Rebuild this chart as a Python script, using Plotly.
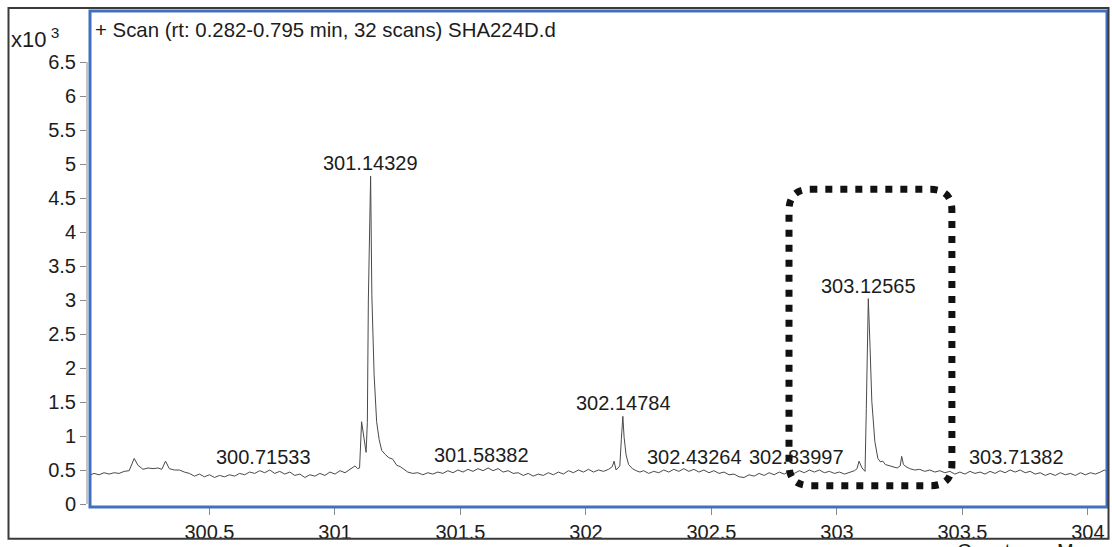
import plotly.graph_objects as go

# ---------------- data (intensity in x10^3 counts) ----------------
mz = [
    300.020, 300.040, 300.060, 300.080, 300.100, 300.120, 300.140, 300.160, 300.180, 300.200,
    300.215, 300.235, 300.255, 300.275, 300.295, 300.310, 300.325, 300.340, 300.360, 300.380,
    300.400, 300.420, 300.440, 300.460, 300.480, 300.500, 300.520, 300.540, 300.560, 300.580,
    300.600, 300.620, 300.640, 300.660, 300.680, 300.700, 300.720, 300.740, 300.760, 300.780,
    300.800, 300.820, 300.840, 300.860, 300.880, 300.900, 300.920, 300.940, 300.960, 300.980,
    301.000, 301.020, 301.040, 301.060, 301.080, 301.090, 301.098, 301.106, 301.115, 301.124,
    301.129, 301.133, 301.142, 301.147, 301.156, 301.166, 301.176, 301.186, 301.200, 301.215,
    301.230, 301.246, 301.260, 301.275, 301.290, 301.310, 301.330, 301.350, 301.370, 301.390,
    301.410, 301.430, 301.450, 301.470, 301.490, 301.510, 301.530, 301.550, 301.570, 301.590,
    301.610, 301.630, 301.650, 301.670, 301.690, 301.710, 301.730, 301.750, 301.770, 301.790,
    301.810, 301.830, 301.850, 301.870, 301.890, 301.910, 301.930, 301.950, 301.970, 301.990,
    302.010, 302.030, 302.050, 302.070, 302.090, 302.105, 302.112, 302.120, 302.135, 302.141,
    302.147, 302.152, 302.160, 302.170, 302.185, 302.200, 302.215, 302.230, 302.250, 302.270,
    302.290, 302.310,
    302.330, 302.350, 302.370, 302.390, 302.410, 302.430, 302.450, 302.470, 302.490, 302.510,
    302.530, 302.550, 302.570, 302.590, 302.610, 302.630, 302.650, 302.670, 302.690, 302.710,
    302.730, 302.750, 302.770, 302.790, 302.810, 302.830, 302.850, 302.870, 302.890, 302.910,
    302.930, 302.950, 302.970, 302.990, 303.010, 303.030, 303.050, 303.070, 303.080, 303.088,
    303.100, 303.112, 303.117, 303.125, 303.132, 303.139, 303.151, 303.163, 303.173, 303.183,
    303.193, 303.203, 303.220, 303.240, 303.252, 303.258, 303.265, 303.275, 303.290, 303.310,
    303.330, 303.350, 303.370, 303.390, 303.410, 303.430, 303.450, 303.470, 303.490, 303.510,
    303.530, 303.550, 303.570, 303.590, 303.610, 303.630, 303.650, 303.670, 303.690, 303.710,
    303.730, 303.750, 303.770, 303.790, 303.810, 303.830, 303.850, 303.870, 303.890, 303.910,
    303.930, 303.950, 303.970, 303.990, 304.010, 304.030, 304.050, 304.065, 304.080,
]
intensity = [
    0.42, 0.45, 0.43, 0.46, 0.44, 0.46, 0.45, 0.48, 0.49, 0.67,
    0.57, 0.51, 0.53, 0.52, 0.53, 0.51, 0.63, 0.52, 0.50, 0.50,
    0.47, 0.45, 0.41, 0.44, 0.40, 0.43, 0.39, 0.42, 0.40, 0.43,
    0.41, 0.45, 0.43, 0.47, 0.45, 0.49, 0.46, 0.50, 0.45, 0.48,
    0.44, 0.47, 0.42, 0.44, 0.39, 0.43, 0.41, 0.45, 0.42, 0.47,
    0.44, 0.49, 0.46, 0.51, 0.56, 0.52, 0.53, 1.21, 0.95, 0.76,
    1.20, 3.00, 4.82, 3.06, 1.90, 1.21, 0.95, 0.79, 0.73, 0.68,
    0.66, 0.57, 0.55, 0.51, 0.47, 0.45, 0.46, 0.43, 0.46, 0.44,
    0.47, 0.45, 0.49, 0.46, 0.50, 0.47, 0.51, 0.48, 0.52, 0.49,
    0.53, 0.49, 0.52, 0.47, 0.49, 0.45, 0.46, 0.42, 0.45, 0.41,
    0.44, 0.42, 0.46, 0.43, 0.47, 0.44, 0.49, 0.46, 0.50, 0.47,
    0.51, 0.47, 0.50, 0.48, 0.51, 0.55, 0.63, 0.50, 0.56, 0.95,
    1.29, 0.98, 0.72, 0.58, 0.52, 0.49, 0.47, 0.49, 0.45, 0.48,
    0.46, 0.50,
    0.47, 0.51, 0.48, 0.52, 0.48, 0.51, 0.47, 0.50, 0.46, 0.49,
    0.45, 0.47, 0.43, 0.44, 0.40, 0.39, 0.43, 0.41, 0.45, 0.42,
    0.46, 0.43, 0.47, 0.44, 0.48, 0.45, 0.49, 0.46, 0.50, 0.47,
    0.50, 0.46, 0.48, 0.45, 0.47, 0.44, 0.47, 0.49, 0.52, 0.63,
    0.53, 0.48, 1.40, 3.02, 2.30, 1.51, 0.92, 0.67, 0.62, 0.63,
    0.58, 0.57, 0.55, 0.53, 0.56, 0.70, 0.58, 0.55, 0.52, 0.50,
    0.51, 0.48, 0.50, 0.47, 0.49, 0.46, 0.48, 0.44, 0.47, 0.44,
    0.48, 0.45, 0.47, 0.44, 0.48, 0.45, 0.49, 0.46, 0.50, 0.47,
    0.50, 0.46, 0.48, 0.44, 0.46, 0.42, 0.45, 0.42, 0.46, 0.43,
    0.45, 0.42, 0.46, 0.43, 0.46, 0.44, 0.47, 0.50, 0.47,
]

peak_labels = ["300.71533", "301.14329", "301.58382", "302.14784",
               "302.43264", "302.83997", "303.12565", "303.71382"]
peak_mz = [300.71533, 301.14329, 301.58382, 302.14784,
           302.43264, 302.83997, 303.12565, 303.71382]
peak_int = [0.50, 4.82, 0.53, 1.29, 0.50, 0.50, 3.02, 0.50]

x_tickvals = [300.5, 301, 301.5, 302, 302.5, 303, 303.5, 304]
x_ticktext = ["300.5", "301", "301.5", "302", "302.5", "303", "303.5", "304"]
y_tickvals = [0, 0.5, 1, 1.5, 2, 2.5, 3, 3.5, 4, 4.5, 5, 5.5, 6, 6.5]
y_ticktext = ["0", "0.5", "1", "1.5", "2", "2.5", "3", "3.5", "4", "4.5", "5", "5.5", "6", "6.5"]

title_text = "+ Scan (rt: 0.282-0.795 min, 32 scans) SHA224D.d"
xaxis_text = "Counts vs. Mass-to-Charge (m/z)"

# ---------------- geometry ----------------
W, H = 1112, 547
ML, MR, MT, MB = 87, 4, 11, 38
PW = W - ML - MR
PH = H - MT - MB

def px_to_paper_x(px):
    return (px - ML) / PW

def px_to_paper_y(py):
    return (H - MB - py) / PH

FONT = "Liberation Sans, Arial, Helvetica, sans-serif"
TXT = "#1c1c1c"

fig = go.Figure()
fig.add_trace(go.Scatter(
    x=mz, y=intensity, mode="lines",
    line=dict(color="#4a4a4a", width=1),
    hoverinfo="skip", showlegend=False,
))

annotations = []
for lab, xm, yi in zip(peak_labels, peak_mz, peak_int):
    annotations.append(dict(
        x=xm, y=yi, xref="x", yref="y", text=lab, showarrow=False,
        xanchor="center", yanchor="bottom", yshift=0,
        font=dict(family=FONT, size=20, color=TXT),
    ))

annotations.append(dict(
    x=px_to_paper_x(93), y=px_to_paper_y(30), xref="paper", yref="paper",
    text=title_text, showarrow=False, xanchor="left", yanchor="middle",
    font=dict(family=FONT, size=20.4, color=TXT),
))
annotations.append(dict(
    x=px_to_paper_x(9), y=px_to_paper_y(38), xref="paper", yref="paper",
    text="x10<sup> 3</sup>", showarrow=False, xanchor="left", yanchor="middle",
    font=dict(family=FONT, size=22, color=TXT),
))
annotations.append(dict(
    x=px_to_paper_x(955), y=px_to_paper_y(540), xref="paper", yref="paper",
    text=xaxis_text, showarrow=False, xanchor="left", yanchor="top",
    font=dict(family=FONT, size=20, color=TXT),
))

# rounded dotted box around the 303.12565 peak (data coords)
bx0, bx1 = 302.809, 303.458
by0, by1 = 0.27, 4.627
rx, ry = 0.085, 0.31
box_path = (
    f"M {bx0+rx},{by1} L {bx1-rx},{by1} Q {bx1},{by1} {bx1},{by1-ry} "
    f"L {bx1},{by0+ry} Q {bx1},{by0} {bx1-rx},{by0} "
    f"L {bx0+rx},{by0} Q {bx0},{by0} {bx0},{by0+ry} "
    f"L {bx0},{by1-ry} Q {bx0},{by1} {bx0+rx},{by1} Z"
)

shapes = [
    # gray y axis line (0 to 6.5)
    dict(type="line", xref="paper", yref="y", x0=0, x1=0, y0=0, y1=6.5,
         line=dict(color="#8a8a8a", width=1)),
    # blue plot frame
    dict(type="rect", xref="paper", yref="paper",
         x0=px_to_paper_x(90), x1=px_to_paper_x(1107), y0=px_to_paper_y(509), y1=px_to_paper_y(11),
         line=dict(color="#4170c0", width=3), fillcolor="rgba(0,0,0,0)", layer="above"),
    # outer dark frame
    dict(type="rect", xref="paper", yref="paper",
         x0=px_to_paper_x(8.5), x1=px_to_paper_x(1108.5), y0=px_to_paper_y(541), y1=px_to_paper_y(8),
         line=dict(color="#3a3a3a", width=2), fillcolor="rgba(0,0,0,0)", layer="above"),
    # dotted rounded box
    dict(type="path", xref="x", yref="y", path=box_path,
         line=dict(color="#111111", width=7, dash="7px,8px"), layer="above"),
]

fig.update_layout(
    width=W, height=H,
    margin=dict(l=ML, r=MR, t=MT, b=MB, pad=0),
    paper_bgcolor="white", plot_bgcolor="white",
    showlegend=False,
    annotations=annotations,
    shapes=shapes,
    xaxis=dict(
        range=[300.012, 304.080], tickvals=x_tickvals, ticktext=x_ticktext,
        ticks="outside", ticklen=7, tickcolor="#8a8a8a", tickwidth=1,
        showgrid=False, zeroline=False, showline=False,
        tickfont=dict(family=FONT, size=20, color=TXT),
    ),
    yaxis=dict(
        range=[-0.044, 7.25], tickvals=y_tickvals, ticktext=y_ticktext,
        ticks="outside", ticklen=6, tickcolor="#8a8a8a", tickwidth=1,
        showgrid=False, zeroline=False, showline=False,
        tickfont=dict(family=FONT, size=20, color=TXT),
    ),
)

fig.write_html(
    "out.html",
    config={"displayModeBar": False},
    post_script="document.body.style.margin='0';document.body.style.overflow='hidden';",
)
